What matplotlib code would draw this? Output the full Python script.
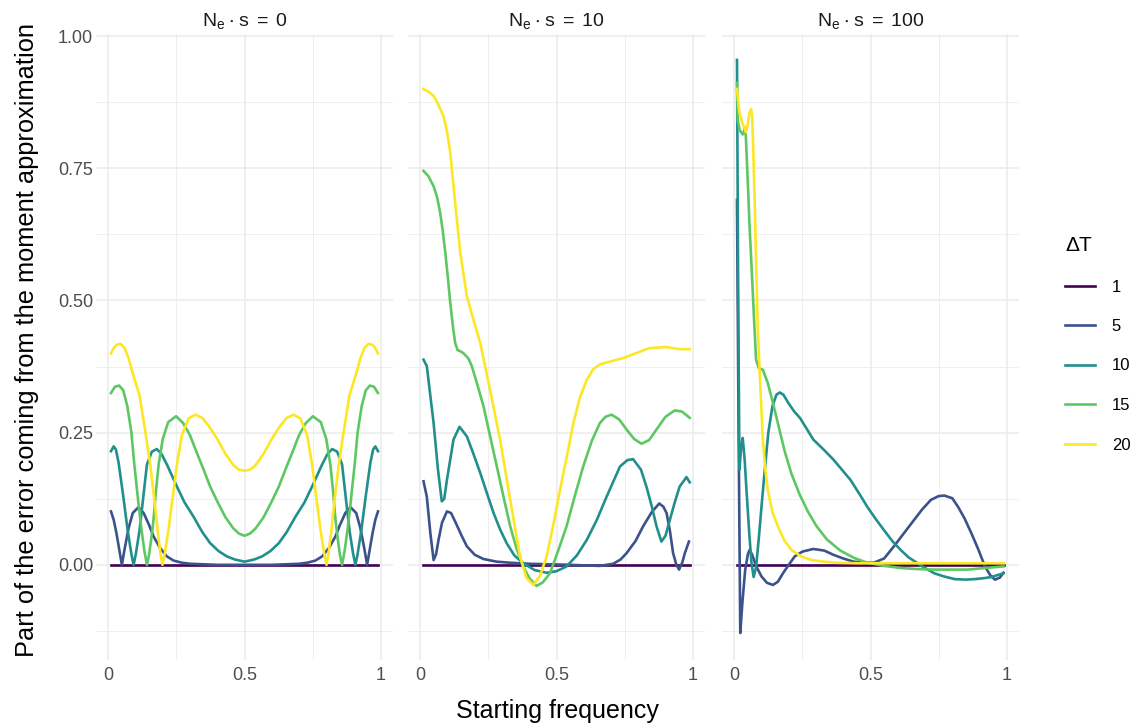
import numpy as np, matplotlib.pyplot as plt
from matplotlib.lines import Line2D

plt.rcParams['font.family'] = ['Liberation Sans', 'DejaVu Sans']

# facets (Ne*s) and legend groups (Delta T)
svals = [0, 10, 100]
dT = [1, 5, 10, 15, 20]
colors = ['#440154', '#3B528B', '#21908C', '#5DC863', '#FDE725']

# ---- Ne*s = 0 ----
s0_dt1_x = [0.01, 0.99]
s0_dt1_y = [0.0, 0.0]
s0_dt5_x = [0.01,0.02,0.03,0.04,0.05,0.06,0.075,0.09,0.111,0.13,0.15,0.166,0.19,0.215,0.24,0.27,0.30,0.35,0.40,0.45,0.50,
            0.55,0.60,0.65,0.70,0.73,0.76,0.785,0.81,0.834,0.85,0.87,0.889,0.91,0.925,0.94,0.95,0.96,0.97,0.98,0.99]
s0_dt5_y = [0.101,0.085,0.06,0.03,0.0,0.03,0.07,0.098,0.109,0.098,0.075,0.054,0.032,0.016,0.008,0.004,0.002,0.001,0.0,0.0,0.0,
            0.0,0.0,0.001,0.002,0.004,0.008,0.016,0.032,0.054,0.075,0.098,0.109,0.098,0.07,0.03,0.0,0.03,0.06,0.085,0.101]
s0_dt10_x = [0.01,0.02,0.028,0.038,0.055,0.071,0.085,0.093,0.101,0.115,0.13,0.142,0.16,0.178,0.195,0.215,0.252,0.28,0.313,0.345,0.374,0.405,0.435,0.465,0.50,
             0.535,0.565,0.595,0.626,0.655,0.687,0.72,0.748,0.785,0.805,0.822,0.84,0.858,0.87,0.885,0.899,0.907,0.915,0.929,0.945,0.962,0.972,0.98,0.99]
s0_dt10_y = [0.215,0.224,0.218,0.193,0.13,0.066,0.02,0.0,0.02,0.066,0.135,0.19,0.214,0.219,0.21,0.19,0.148,0.118,0.091,0.062,0.041,0.026,0.016,0.01,0.006,
             0.01,0.016,0.026,0.041,0.062,0.091,0.118,0.148,0.19,0.21,0.219,0.214,0.19,0.135,0.066,0.02,0.0,0.02,0.066,0.13,0.193,0.218,0.224,0.215]
s0_dt15_x = [0.01,0.025,0.04,0.055,0.07,0.085,0.095,0.11,0.122,0.133,0.142,0.15,0.158,0.166,0.175,0.185,0.20,0.22,0.249,0.275,0.30,0.325,0.35,0.374,0.40,0.43,0.459,0.48,0.50,
             0.52,0.541,0.57,0.60,0.626,0.65,0.675,0.70,0.725,0.751,0.78,0.80,0.815,0.825,0.834,0.842,0.85,0.858,0.867,0.878,0.89,0.905,0.915,0.93,0.945,0.96,0.975,0.99]
s0_dt15_y = [0.325,0.337,0.339,0.33,0.30,0.25,0.193,0.12,0.066,0.025,0.0,0.02,0.05,0.085,0.14,0.19,0.238,0.27,0.281,0.268,0.245,0.212,0.18,0.148,0.12,0.09,0.069,0.059,0.055,
             0.059,0.069,0.09,0.12,0.148,0.18,0.212,0.245,0.268,0.281,0.27,0.238,0.19,0.14,0.085,0.05,0.02,0.0,0.025,0.066,0.12,0.193,0.25,0.30,0.33,0.339,0.337,0.325]
s0_dt20_x = [0.01,0.02,0.03,0.045,0.06,0.075,0.09,0.115,0.135,0.154,0.17,0.181,0.192,0.199,0.207,0.221,0.237,0.252,0.27,0.295,0.32,0.345,0.37,0.40,0.43,0.46,0.48,0.50,
             0.52,0.54,0.57,0.60,0.63,0.655,0.68,0.705,0.73,0.748,0.763,0.779,0.793,0.801,0.808,0.819,0.83,0.846,0.865,0.885,0.91,0.925,0.94,0.955,0.97,0.98,0.99]
s0_dt20_y = [0.400,0.410,0.416,0.418,0.410,0.39,0.362,0.320,0.255,0.190,0.12,0.066,0.02,0.0,0.02,0.066,0.13,0.19,0.245,0.277,0.284,0.278,0.262,0.238,0.21,0.188,0.18,0.178,
             0.18,0.188,0.21,0.238,0.262,0.278,0.284,0.277,0.245,0.19,0.13,0.066,0.02,0.0,0.02,0.066,0.12,0.19,0.255,0.32,0.362,0.39,0.410,0.418,0.416,0.410,0.400]

# ---- Ne*s = 10 ----
s10_dt1_x = [0.01, 0.99]
s10_dt1_y = [0.0, 0.0]
s10_dt5_x = [0.012,0.024,0.037,0.049,0.058,0.067,0.08,0.098,0.113,0.128,0.15,0.171,0.2,0.232,0.28,0.33,0.4,0.476,0.55,0.598,0.659,0.708,0.735,0.757,
             0.79,0.818,0.85,0.877,0.892,0.904,0.916,0.928,0.94,0.95,0.962,0.971,0.986]
s10_dt5_y = [0.158,0.129,0.06,0.009,0.02,0.047,0.08,0.101,0.098,0.082,0.057,0.035,0.019,0.011,0.006,0.004,0.002,0.001,0.0,-0.001,-0.002,0.002,0.01,0.022,
             0.045,0.073,0.10,0.116,0.11,0.098,0.065,0.022,0.0,-0.009,0.005,0.022,0.044]
s10_dt10_x = [0.012,0.024,0.049,0.065,0.079,0.088,0.098,0.122,0.144,0.171,0.195,0.22,0.245,0.269,0.293,0.317,0.345,0.378,0.42,0.464,0.50,0.537,0.575,0.611,
              0.648,0.684,0.733,0.76,0.781,0.81,0.83,0.85,0.867,0.885,0.90,0.916,0.935,0.952,0.977,0.989]
s10_dt10_y = [0.388,0.376,0.268,0.18,0.12,0.125,0.161,0.237,0.261,0.243,0.21,0.174,0.135,0.098,0.067,0.041,0.018,0.003,-0.01,-0.015,-0.012,-0.003,0.018,0.047,
              0.085,0.129,0.186,0.198,0.20,0.18,0.148,0.11,0.073,0.044,0.055,0.085,0.12,0.148,0.166,0.156]
s10_dt15_x = [0.012,0.03,0.049,0.062,0.073,0.083,0.092,0.101,0.11,0.12,0.128,0.137,0.147,0.159,0.177,0.189,0.21,0.232,0.256,0.281,0.305,0.33,0.354,0.378,0.40,0.427,
              0.45,0.476,0.505,0.537,0.567,0.598,0.63,0.659,0.68,0.702,0.73,0.757,0.785,0.812,0.84,0.867,0.90,0.934,0.96,0.989]
s10_dt15_y = [0.745,0.735,0.716,0.695,0.666,0.63,0.59,0.545,0.496,0.45,0.42,0.406,0.404,0.40,0.39,0.376,0.34,0.30,0.244,0.186,0.13,0.073,0.03,-0.003,-0.025,-0.04,
              -0.033,-0.016,0.025,0.073,0.13,0.186,0.235,0.268,0.28,0.284,0.275,0.256,0.238,0.229,0.236,0.256,0.28,0.292,0.29,0.278]
s10_dt20_x = [0.011,0.03,0.049,0.065,0.085,0.098,0.11,0.128,0.147,0.171,0.195,0.22,0.256,0.293,0.33,0.366,0.39,0.415,0.44,0.464,0.49,0.513,0.54,0.562,0.585,0.611,
              0.635,0.659,0.70,0.745,0.79,0.842,0.904,0.95,0.989]
s10_dt20_y = [0.90,0.895,0.887,0.872,0.849,0.82,0.78,0.685,0.59,0.508,0.464,0.42,0.331,0.237,0.123,0.016,-0.025,-0.038,-0.02,0.016,0.08,0.142,0.21,0.268,0.315,0.35,
              0.37,0.379,0.385,0.391,0.40,0.41,0.412,0.408,0.408]

# ---- Ne*s = 100 ----
s100_dt1_x = [0.01, 0.99]
s100_dt1_y = [0.0, 0.0]
s100_dt5_x = [0.01,0.016,0.022,0.03,0.04,0.05,0.056,0.065,0.08,0.1,0.12,0.142,0.16,0.18,0.2,0.222,0.25,0.29,0.33,0.364,0.40,0.438,0.475,0.512,0.55,0.586,
              0.62,0.66,0.69,0.722,0.75,0.771,0.80,0.821,0.845,0.87,0.895,0.92,0.94,0.957,0.975,0.988]
s100_dt5_y = [0.69,0.25,-0.129,-0.07,-0.01,0.02,0.028,0.02,-0.002,-0.022,-0.034,-0.038,-0.032,-0.015,0.0,0.016,0.025,0.03,0.027,0.019,0.012,0.006,0.004,0.004,0.012,0.035,
              0.058,0.085,0.105,0.123,0.13,0.131,0.126,0.11,0.088,0.06,0.03,-0.003,-0.02,-0.028,-0.024,-0.015]
s100_dt10_x = [0.01,0.014,0.019,0.025,0.031,0.038,0.045,0.055,0.063,0.071,0.08,0.09,0.1,0.111,0.125,0.14,0.155,0.167,0.18,0.2,0.22,0.241,0.265,0.29,0.33,
               0.364,0.395,0.426,0.457,0.488,0.52,0.549,0.58,0.611,0.64,0.673,0.70,0.734,0.77,0.809,0.85,0.883,0.92,0.944,0.988]
s100_dt10_y = [0.955,0.55,0.18,0.22,0.24,0.2,0.14,0.06,0.005,-0.023,-0.005,0.05,0.11,0.174,0.25,0.30,0.322,0.326,0.322,0.305,0.29,0.278,0.258,0.237,0.217,
               0.199,0.18,0.161,0.136,0.11,0.086,0.066,0.045,0.028,0.014,0.003,-0.006,-0.016,-0.022,-0.027,-0.028,-0.027,-0.025,-0.023,-0.016]
s100_dt15_x = [0.01,0.013,0.02,0.031,0.037,0.04,0.043,0.05,0.056,0.062,0.068,0.074,0.08,0.09,0.105,0.123,0.14,0.16,0.185,0.21,0.24,0.271,0.302,0.34,0.389,
               0.44,0.488,0.55,0.611,0.67,0.734,0.8,0.858,0.92,0.988]
s100_dt15_y = [0.912,0.84,0.822,0.814,0.822,0.827,0.805,0.72,0.641,0.58,0.515,0.45,0.388,0.372,0.369,0.344,0.31,0.268,0.215,0.172,0.133,0.1,0.073,0.048,0.027,
               0.013,0.004,-0.002,-0.006,-0.008,-0.009,-0.009,-0.009,-0.006,-0.003]
s100_dt20_x = [0.01,0.019,0.03,0.037,0.043,0.05,0.056,0.062,0.066,0.07,0.074,0.08,0.086,0.093,0.099,0.105,0.114,0.123,0.14,0.16,0.185,0.21,0.245,0.284,0.33,
               0.37,0.45,0.55,0.65,0.75,0.85,0.95,0.99]
s100_dt20_y = [0.90,0.855,0.835,0.827,0.818,0.835,0.855,0.862,0.845,0.78,0.704,0.578,0.451,0.369,0.3,0.237,0.18,0.142,0.1,0.073,0.045,0.028,0.016,0.009,0.006,
               0.004,0.003,0.003,0.003,0.003,0.003,0.003,0.003]

series = {
    0: [(s0_dt1_x, s0_dt1_y), (s0_dt5_x, s0_dt5_y), (s0_dt10_x, s0_dt10_y), (s0_dt15_x, s0_dt15_y), (s0_dt20_x, s0_dt20_y)],
    10: [(s10_dt1_x, s10_dt1_y), (s10_dt5_x, s10_dt5_y), (s10_dt10_x, s10_dt10_y), (s10_dt15_x, s10_dt15_y), (s10_dt20_x, s10_dt20_y)],
    100: [(s100_dt1_x, s100_dt1_y), (s100_dt5_x, s100_dt5_y), (s100_dt10_x, s100_dt10_y), (s100_dt15_x, s100_dt15_y), (s100_dt20_x, s100_dt20_y)],
}

W, H = 1135, 724
fig = plt.figure(figsize=(W/100, H/100), dpi=100)
lefts = [96, 408, 722]; pw = 297; top, bot = 34, 660
grid_c = '#EBEBEB'

for i, s in enumerate(svals):
    ax = fig.add_axes([lefts[i]/W, 1-bot/H, pw/W, (bot-top)/H])
    for (x, y), c in zip(series[s], colors):
        ax.plot(x, y, color=c, lw=1.9, solid_joinstyle='round')
    ax.set_xlim(-0.045, 1.045); ax.set_ylim(-0.18, 1.004)
    ax.set_xticks([0, 0.5, 1]); ax.set_xticklabels(['0', '0.5', '1'])
    ax.set_xticks([0.25, 0.75], minor=True)
    ax.set_yticks([0, 0.25, 0.5, 0.75, 1.0])
    ax.set_yticks([-0.125, 0.125, 0.375, 0.625, 0.875], minor=True)
    if i == 0: ax.set_yticklabels(['0.00', '0.25', '0.50', '0.75', '1.00'])
    else: ax.set_yticklabels([])
    ax.grid(which='major', color=grid_c, lw=1.1); ax.grid(which='minor', color=grid_c, lw=0.55)
    ax.set_axisbelow(True)
    for sp in ax.spines.values(): sp.set_visible(False)
    ax.tick_params(which='both', length=0, labelsize=13, labelcolor='#4D4D4D')
    ax.tick_params(axis='y', pad=2); ax.tick_params(axis='x', pad=5)
    ax.set_title(r'$\mathregular{N_e\:\cdot\:s\:=\:%d}$' % s, fontsize=14, color='#1A1A1A', pad=6)

fig.text(27/W, 1-340/H, 'Part of the error coming from the moment approximation', rotation=90,
         ha='center', va='center', fontsize=18.3)
fig.text(557/W, 1-711/H, 'Starting frequency', ha='center', va='center', fontsize=18)

handles = [Line2D([], [], color=c, lw=1.9) for c in colors]
fig.legend(handles, [str(d) for d in dT], title='ΔT', loc='upper left', bbox_to_anchor=(1050/W, 1-221/H),
           frameon=False, fontsize=12, title_fontsize=15, handlelength=1.8, handletextpad=1.0,
           labelspacing=1.47, alignment='left')

plt.savefig('out.png', dpi=100)
print("[OK] out.png")
